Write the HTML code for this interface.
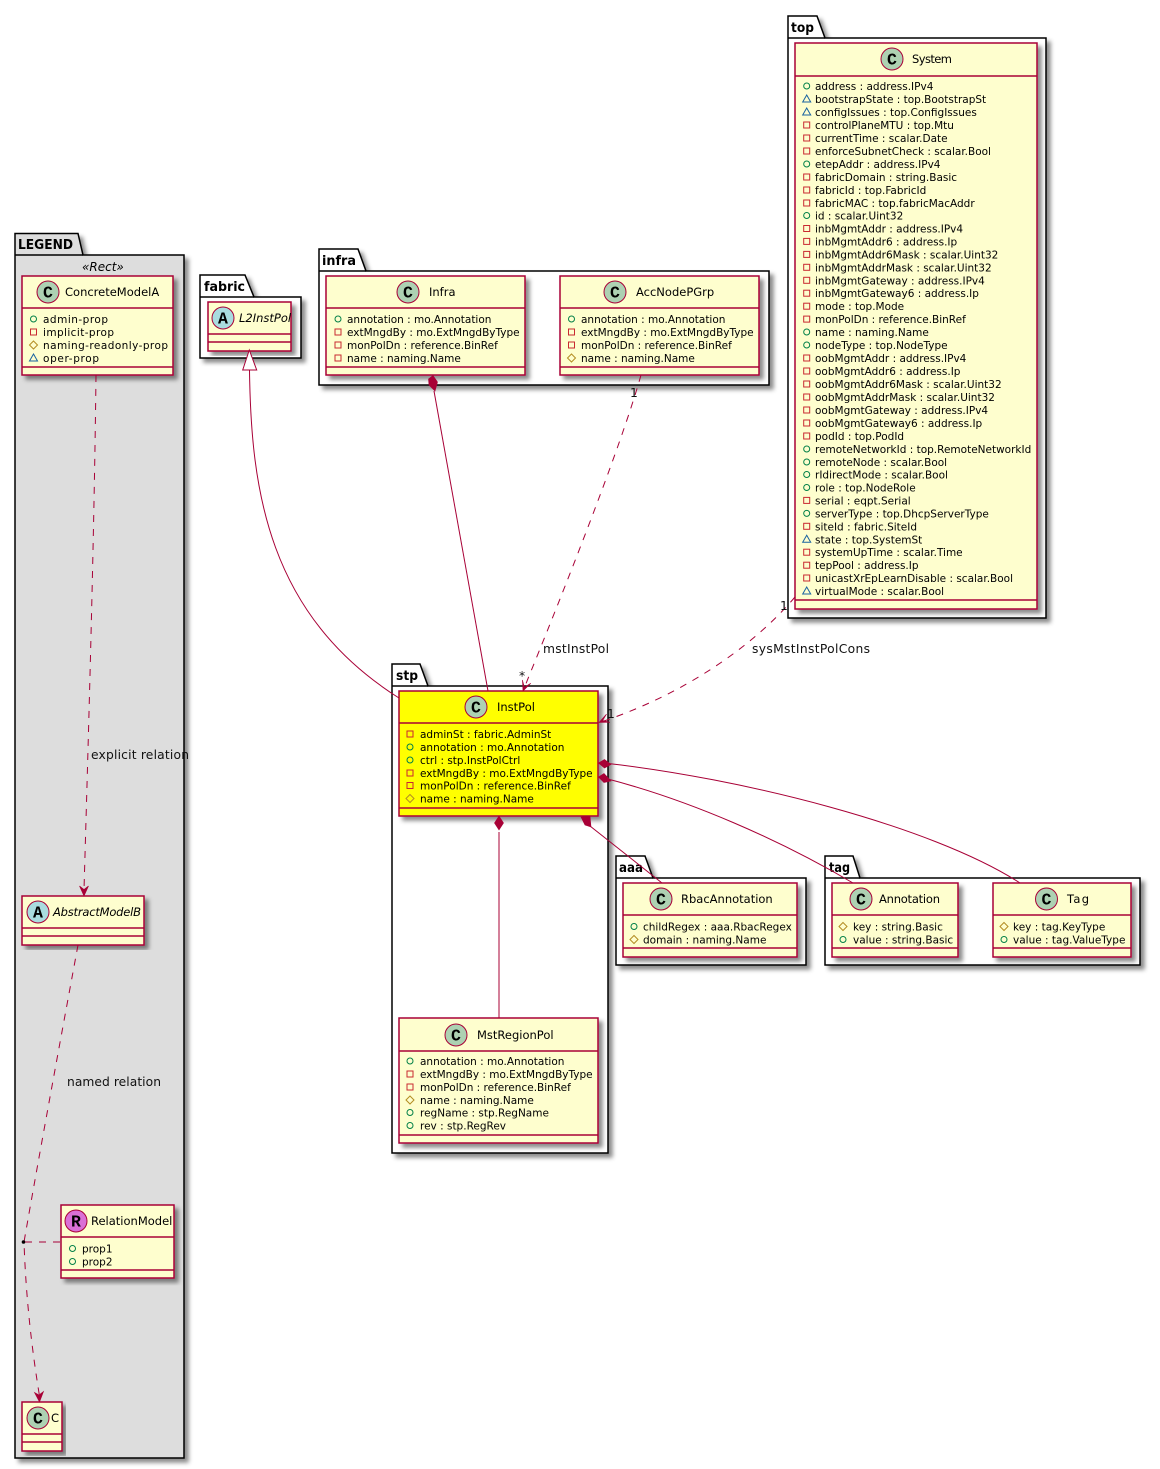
<!DOCTYPE html>
<html>
<head>
<meta charset="utf-8">
<style>
html,body{margin:0;padding:0;background:#fff}
svg{display:block}
text{font-family:"DejaVu Sans","Liberation Sans",sans-serif;fill:#000}
.r{font-size:10.5px}
.t{font-size:11.5px}
.i{font-style:italic}
.l{font-size:12.3px;fill:#111}
.p{font-size:13.5px;font-weight:bold}
.g{font-family:"Liberation Mono",monospace;font-size:16.5px;font-weight:bold;text-anchor:middle}
.pk{fill:#fff;stroke:#000;stroke-width:1.5;filter:url(#sh)}
.cl{fill:#FEFECE;stroke:#A80036;stroke-width:1.5;filter:url(#sh)}
.sp{stroke:#A80036;stroke-width:1.5;fill:none}
.e{stroke:#A80036;stroke-width:1;fill:none}
.d{stroke:#A80036;stroke-width:1;fill:none;stroke-dasharray:7 7}
.ic{stroke:#A80036;stroke-width:1;fill:#ADD1B2}
.ah{fill:#A80036;stroke:#A80036;stroke-width:0.6}
</style>
</head>
<body>
<svg xmlns="http://www.w3.org/2000/svg" width="1160" height="1469" viewBox="0 0 1160 1469">
<defs>
<filter id="sh" x="-10%" y="-10%" width="120%" height="120%"><feDropShadow dx="4" dy="4" stdDeviation="2" flood-color="#000" flood-opacity="0.45"/></filter>
<circle id="c" r="3" fill="none" stroke="#038048"/>
<rect id="s" x="-3" y="-3" width="6" height="6" fill="none" stroke="#C82930"/>
<path id="m" d="M0,-4L4,0L0,4L-4,0Z" fill="none" stroke="#B38D22"/>
<path id="a" d="M0,-4L4,3L-4,3Z" fill="none" stroke="#1963A0"/>
</defs>

<!-- packages -->
<path class="pk" style="fill:#DDDDDD" d="M15,255V233.5H78L83,255H184V1458H15Z"/>
<path class="sp" style="stroke:#000" d="M15,255H83"/>
<text class="p" x="18" y="249" textLength="55" lengthAdjust="spacingAndGlyphs">LEGEND</text>
<text class="r i" x="82" y="271" style="font-size:12px">«Rect»</text>

<path class="pk" d="M200,297V275H245L254,297H301V358H200Z"/>
<path class="sp" style="stroke:#000" d="M200,297H254"/>
<text class="p" x="204" y="291" textLength="41" lengthAdjust="spacingAndGlyphs">fabric</text>

<path class="pk" d="M319,271V249H358L366,271H769V385H319Z"/>
<path class="sp" style="stroke:#000" d="M319,271H366"/>
<text class="p" x="322" y="265" textLength="34" lengthAdjust="spacingAndGlyphs">infra</text>

<path class="pk" d="M788,38V16H817L825,38H1046V618H788Z"/>
<path class="sp" style="stroke:#000" d="M788,38H825"/>
<text class="p" x="791" y="32" textLength="23" lengthAdjust="spacingAndGlyphs">top</text>

<path class="pk" d="M392,686V664H420L428,686H608V1153H392Z"/>
<path class="sp" style="stroke:#000" d="M392,686H428"/>
<text class="p" x="396" y="680" textLength="22" lengthAdjust="spacingAndGlyphs">stp</text>

<path class="pk" d="M616,878V856H645L653,878H806V965H616Z"/>
<path class="sp" style="stroke:#000" d="M616,878H653"/>
<text class="p" x="619" y="872" textLength="24" lengthAdjust="spacingAndGlyphs">aaa</text>

<path class="pk" d="M825,878V856H853L860,878H1140V965H825Z"/>
<path class="sp" style="stroke:#000" d="M825,878H860"/>
<text class="p" x="829" y="872" textLength="21" lengthAdjust="spacingAndGlyphs">tag</text>

<!-- classes -->
<rect class="cl" x="22" y="276" width="151" height="99"/>
<path class="sp" d="M22,308H173M22,367H173"/>
<circle class="ic" cx="48" cy="292" r="11"/><text class="g" x="48" y="297.500">C</text>
<text class="t" x="65" y="296">ConcreteModelA</text>
<use href="#c" x="33.500" y="319"/><text class="r" x="43" y="323" textLength="65">admin-prop</text>
<use href="#s" x="33.500" y="332"/><text class="r" x="43" y="336" textLength="71">implicit-prop</text>
<use href="#m" x="33.500" y="345"/><text class="r" x="43" y="349" textLength="125">naming-readonly-prop</text>
<use href="#a" x="33.500" y="358"/><text class="r" x="43" y="362" textLength="56">oper-prop</text>

<rect class="cl" x="208" y="302" width="83" height="49"/>
<path class="sp" d="M208,334H291M208,342H291"/>
<circle style="fill:#A9DCDF;stroke:#A80036" cx="223" cy="318" r="11"/><text class="g" x="223" y="323.500">A</text>
<text class="t i" x="239" y="322">L2InstPol</text>

<rect class="cl" x="326" y="276" width="199" height="99"/>
<path class="sp" d="M326,308H525M326,367H525"/>
<circle class="ic" cx="408" cy="292" r="11"/><text class="g" x="408" y="297.500">C</text>
<text class="t" x="429" y="296">Infra</text>
<use href="#c" x="338" y="319"/><text class="r" x="347" y="323">annotation : mo.Annotation</text>
<use href="#s" x="338" y="332"/><text class="r" x="347" y="336">extMngdBy : mo.ExtMngdByType</text>
<use href="#s" x="338" y="345"/><text class="r" x="347" y="349">monPolDn : reference.BinRef</text>
<use href="#s" x="338" y="358"/><text class="r" x="347" y="362">name : naming.Name</text>

<rect class="cl" x="560" y="276" width="199" height="99"/>
<path class="sp" d="M560,308H759M560,367H759"/>
<circle class="ic" cx="615" cy="292" r="11"/><text class="g" x="615" y="297.500">C</text>
<text class="t" x="636" y="296">AccNodePGrp</text>
<use href="#c" x="571.500" y="319"/><text class="r" x="581" y="323">annotation : mo.Annotation</text>
<use href="#s" x="571.500" y="332"/><text class="r" x="581" y="336">extMngdBy : mo.ExtMngdByType</text>
<use href="#s" x="571.500" y="345"/><text class="r" x="581" y="349">monPolDn : reference.BinRef</text>
<use href="#m" x="571.500" y="358"/><text class="r" x="581" y="362">name : naming.Name</text>

<rect class="cl" x="795" y="43" width="242" height="566"/>
<path class="sp" d="M795,76H1037M795,600H1037"/>
<circle class="ic" cx="892" cy="59" r="11"/><text class="g" x="892" y="64.500">C</text>
<text class="t" x="912" y="63" textLength="40">System</text>
<use href="#c" x="806.700" y="86"/><text class="r" x="815" y="90">address : address.IPv4</text>
<use href="#a" x="806.700" y="99"/><text class="r" x="815" y="103">bootstrapState : top.BootstrapSt</text>
<use href="#a" x="806.700" y="112"/><text class="r" x="815" y="116">configIssues : top.ConfigIssues</text>
<use href="#s" x="806.700" y="125"/><text class="r" x="815" y="129">controlPlaneMTU : top.Mtu</text>
<use href="#s" x="806.700" y="138"/><text class="r" x="815" y="142">currentTime : scalar.Date</text>
<use href="#s" x="806.700" y="151"/><text class="r" x="815" y="155">enforceSubnetCheck : scalar.Bool</text>
<use href="#c" x="806.700" y="164"/><text class="r" x="815" y="168">etepAddr : address.IPv4</text>
<use href="#s" x="806.700" y="177"/><text class="r" x="815" y="181">fabricDomain : string.Basic</text>
<use href="#s" x="806.700" y="190"/><text class="r" x="815" y="194">fabricId : top.FabricId</text>
<use href="#s" x="806.700" y="203"/><text class="r" x="815" y="207">fabricMAC : top.fabricMacAddr</text>
<use href="#c" x="806.700" y="215.500"/><text class="r" x="815" y="219.500">id : scalar.Uint32</text>
<use href="#s" x="806.700" y="228.500"/><text class="r" x="815" y="232.500">inbMgmtAddr : address.IPv4</text>
<use href="#s" x="806.700" y="241.400"/><text class="r" x="815" y="245.400">inbMgmtAddr6 : address.Ip</text>
<use href="#s" x="806.700" y="254.400"/><text class="r" x="815" y="258.400">inbMgmtAddr6Mask : scalar.Uint32</text>
<use href="#s" x="806.700" y="267.300"/><text class="r" x="815" y="271.300">inbMgmtAddrMask : scalar.Uint32</text>
<use href="#s" x="806.700" y="280.300"/><text class="r" x="815" y="284.300">inbMgmtGateway : address.IPv4</text>
<use href="#s" x="806.700" y="293.200"/><text class="r" x="815" y="297.200">inbMgmtGateway6 : address.Ip</text>
<use href="#s" x="806.700" y="306.200"/><text class="r" x="815" y="310.200">mode : top.Mode</text>
<use href="#s" x="806.700" y="319.100"/><text class="r" x="815" y="323.100">monPolDn : reference.BinRef</text>
<use href="#c" x="806.700" y="332"/><text class="r" x="815" y="336">name : naming.Name</text>
<use href="#c" x="806.700" y="345"/><text class="r" x="815" y="349">nodeType : top.NodeType</text>
<use href="#s" x="806.700" y="358"/><text class="r" x="815" y="362">oobMgmtAddr : address.IPv4</text>
<use href="#s" x="806.700" y="371"/><text class="r" x="815" y="375">oobMgmtAddr6 : address.Ip</text>
<use href="#s" x="806.700" y="384"/><text class="r" x="815" y="388">oobMgmtAddr6Mask : scalar.Uint32</text>
<use href="#s" x="806.700" y="397"/><text class="r" x="815" y="401">oobMgmtAddrMask : scalar.Uint32</text>
<use href="#s" x="806.700" y="410"/><text class="r" x="815" y="414">oobMgmtGateway : address.IPv4</text>
<use href="#s" x="806.700" y="423"/><text class="r" x="815" y="427">oobMgmtGateway6 : address.Ip</text>
<use href="#s" x="806.700" y="436"/><text class="r" x="815" y="440">podId : top.PodId</text>
<use href="#c" x="806.700" y="449"/><text class="r" x="815" y="453">remoteNetworkId : top.RemoteNetworkId</text>
<use href="#c" x="806.700" y="462"/><text class="r" x="815" y="466">remoteNode : scalar.Bool</text>
<use href="#c" x="806.700" y="474.500"/><text class="r" x="815" y="478.500">rIdirectMode : scalar.Bool</text>
<use href="#c" x="806.700" y="487.500"/><text class="r" x="815" y="491.500">role : top.NodeRole</text>
<use href="#s" x="806.700" y="500.400"/><text class="r" x="815" y="504.400">serial : eqpt.Serial</text>
<use href="#c" x="806.700" y="513.400"/><text class="r" x="815" y="517.400">serverType : top.DhcpServerType</text>
<use href="#s" x="806.700" y="526.300"/><text class="r" x="815" y="530.300">siteId : fabric.SiteId</text>
<use href="#a" x="806.700" y="539.300"/><text class="r" x="815" y="543.300">state : top.SystemSt</text>
<use href="#s" x="806.700" y="552.200"/><text class="r" x="815" y="556.200">systemUpTime : scalar.Time</text>
<use href="#s" x="806.700" y="565.200"/><text class="r" x="815" y="569.200">tepPool : address.Ip</text>
<use href="#s" x="806.700" y="578"/><text class="r" x="815" y="582">unicastXrEpLearnDisable : scalar.Bool</text>
<use href="#a" x="806.700" y="591"/><text class="r" x="815" y="595">virtualMode : scalar.Bool</text>

<rect class="cl" style="fill:#FFFF00" x="399" y="691" width="199" height="125"/>
<path class="sp" d="M399,723H598M399,808H598"/>
<circle class="ic" cx="476" cy="707" r="11"/><text class="g" x="476" y="712.500">C</text>
<text class="t" x="497" y="711">InstPol</text>
<use href="#s" x="410" y="734"/><text class="r" x="420" y="738">adminSt : fabric.AdminSt</text>
<use href="#c" x="410" y="747"/><text class="r" x="420" y="751">annotation : mo.Annotation</text>
<use href="#c" x="410" y="760"/><text class="r" x="420" y="764">ctrl : stp.InstPolCtrl</text>
<use href="#s" x="410" y="773"/><text class="r" x="420" y="777">extMngdBy : mo.ExtMngdByType</text>
<use href="#s" x="410" y="785.500"/><text class="r" x="420" y="789.500">monPolDn : reference.BinRef</text>
<use href="#m" x="410" y="798.500"/><text class="r" x="420" y="802.500">name : naming.Name</text>

<rect class="cl" x="399" y="1018" width="199" height="125"/>
<path class="sp" d="M399,1051H598M399,1135H598"/>
<circle class="ic" cx="456" cy="1035" r="11"/><text class="g" x="456" y="1040.500">C</text>
<text class="t" x="477" y="1039">MstRegionPol</text>
<use href="#c" x="410" y="1061"/><text class="r" x="420" y="1065">annotation : mo.Annotation</text>
<use href="#s" x="410" y="1074"/><text class="r" x="420" y="1078">extMngdBy : mo.ExtMngdByType</text>
<use href="#s" x="410" y="1087"/><text class="r" x="420" y="1091">monPolDn : reference.BinRef</text>
<use href="#m" x="410" y="1100"/><text class="r" x="420" y="1104">name : naming.Name</text>
<use href="#c" x="410" y="1112.500"/><text class="r" x="420" y="1116.500">regName : stp.RegName</text>
<use href="#c" x="410" y="1125.500"/><text class="r" x="420" y="1129.500">rev : stp.RegRev</text>

<rect class="cl" x="623" y="883" width="174" height="74"/>
<path class="sp" d="M623,915H797M623,948H797"/>
<circle class="ic" cx="661" cy="899" r="11"/><text class="g" x="661" y="904.500">C</text>
<text class="t" x="681" y="903">RbacAnnotation</text>
<use href="#c" x="634" y="926.500"/><text class="r" x="643" y="930.500">childRegex : aaa.RbacRegex</text>
<use href="#m" x="634" y="939.500"/><text class="r" x="643" y="943.500">domain : naming.Name</text>

<rect class="cl" x="832" y="883" width="126" height="74"/>
<path class="sp" d="M832,915H958M832,948H958"/>
<circle class="ic" cx="861" cy="899" r="11"/><text class="g" x="861" y="904.500">C</text>
<text class="t" x="879" y="903" textLength="61">Annotation</text>
<use href="#m" x="843" y="926.500"/><text class="r" x="853" y="930.500">key : string.Basic</text>
<use href="#c" x="843" y="939.500"/><text class="r" x="853" y="943.500">value : string.Basic</text>

<rect class="cl" x="993" y="883" width="138" height="74"/>
<path class="sp" d="M993,915H1131M993,948H1131"/>
<circle class="ic" cx="1046.500" cy="899" r="11"/><text class="g" x="1046.500" y="904.500">C</text>
<text class="t" x="1067" y="903" textLength="22">Tag</text>
<use href="#m" x="1004" y="926.500"/><text class="r" x="1013" y="930.500">key : tag.KeyType</text>
<use href="#c" x="1004" y="939.500"/><text class="r" x="1013" y="943.500">value : tag.ValueType</text>

<rect class="cl" x="22" y="896" width="122" height="49"/>
<path class="sp" d="M22,928H144M22,936H144"/>
<circle style="fill:#A9DCDF;stroke:#A80036" cx="38" cy="912" r="11"/><text class="g" x="38" y="917.500">A</text>
<text class="t i" x="53" y="916" textLength="88">AbstractModelB</text>

<rect class="cl" x="61" y="1205" width="113" height="73"/>
<path class="sp" d="M61,1237H174M61,1270H174"/>
<circle style="fill:#DA70D6;stroke:#A80036" cx="76" cy="1221" r="11"/><text class="g" x="76" y="1226.500">R</text>
<text class="t" x="91" y="1225">RelationModel</text>
<use href="#c" x="72.500" y="1248.500"/><text class="r" x="82" y="1252.500">prop1</text>
<use href="#c" x="72.500" y="1261.500"/><text class="r" x="82" y="1265.500">prop2</text>

<rect class="cl" x="22" y="1402" width="40" height="49"/>
<path class="sp" d="M22,1434H62M22,1442H62"/>
<circle class="ic" cx="38" cy="1418" r="11"/><text class="g" x="38" y="1423.500">C</text>
<text class="t" x="51" y="1422">C</text>

<!-- connectors -->
<path class="e" d="M249.500,370C251,490 268,615 399,698"/>
<path d="M249.300,350L256.700,370H242.700Z" fill="#fff" stroke="#A80036"/>

<path class="e" d="M434,391L488,691"/>
<path class="ah" d="M433,375.500L437.500,382L435,391L429,385L428.500,379Z"/>

<path class="d" d="M641,375C620,450 560,600 525,686"/>
<path class="ah" d="M523,691L530.800,683.300L524.400,687.300L522.400,680Z"/>
<text class="l" x="630" y="397">1</text>
<text class="l" x="519" y="680">*</text>
<text class="l" x="543" y="653" textLength="66">mstInstPol</text>

<path class="d" d="M795,597C750,650 680,695 604,721"/>
<path class="ah" d="M599,722.500L609.900,722.300L602.700,720.500L606.500,714.100Z"/>
<text class="l" x="780" y="610">1</text>
<text class="l" x="607" y="718">1</text>
<text class="l" x="752" y="653" textLength="118">sysMstInstPolCons</text>

<path class="e" d="M604,763C740,778 930,825 1020,883"/>
<path class="ah" d="M598.500,763L604.500,759.500L611,764.500L604.500,768Z"/>
<path class="e" d="M604,778C690,800 780,840 853,883"/>
<path class="ah" d="M598.500,777L604,773.500L611,781L604,782.500Z"/>
<path class="e" d="M590,826L662,883"/>
<path class="ah" d="M581,817L590,816L591,827L585,825Z"/>
<path class="e" d="M499,832V1018"/>
<path class="ah" d="M499,816L503.500,823L499,830L494.500,823Z"/>

<path class="d" d="M96,375C94,550 88,750 84,890"/>
<path class="ah" d="M84,896L88.500,886L84,889.500L79.500,886Z"/>
<text class="l" x="91" y="759" textLength="98">explicit relation</text>

<path class="d" d="M78,945C66,1010 40,1150 24,1242C26,1300 32,1350 39.500,1396"/>
<path class="ah" d="M39.500,1402L43.500,1391.500L39,1395L34.500,1392.500Z"/>
<text class="l" x="67" y="1086" textLength="94">named relation</text>
<circle cx="23.500" cy="1242" r="1.800" fill="#000"/>
<path class="d" d="M25,1242H61"/>
</svg>
</body>
</html>
